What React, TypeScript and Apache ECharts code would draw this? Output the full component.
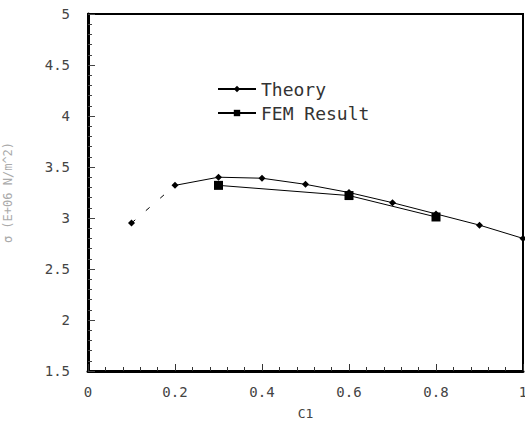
import React, { useEffect, useRef } from "react";
import * as echarts from "echarts";

const theoryX = [0.2, 0.3, 0.4, 0.5, 0.6, 0.7, 0.8, 0.9, 1.0];
const theoryY = [3.32, 3.4, 3.39, 3.33, 3.25, 3.15, 3.04, 2.93, 2.8];
const theoryStartX = [0.1, 0.2];
const theoryStartY = [2.95, 3.32];
const femX = [0.3, 0.6, 0.8];
const femY = [3.32, 3.22, 3.01];

const FONT = "DejaVu Sans Mono";

export default function App() {
  const ref = useRef<HTMLDivElement>(null);
  useEffect(() => {
    if (!ref.current) return;
    const chart = echarts.init(ref.current, null, { renderer: "svg" });
    chart.setOption({
      animation: false,
      backgroundColor: "#fff",
      grid: {
        left: 88,
        right: 2,
        top: 14,
        bottom: 59,
        outerBoundsMode: "none",
        containLabel: false,
        show: true,
        borderColor: "#000",
        borderWidth: 2,
      },
      legend: {
        data: ["Theory", "FEM Result"],
        orient: "vertical",
        left: 212,
        top: 75,
        itemWidth: 38,
        itemHeight: 8,
        itemGap: 6,
        textStyle: { fontFamily: FONT, fontSize: 18, color: "#333" },
      },
      xAxis: {
        type: "value",
        min: 0,
        max: 1,
        interval: 0.2,
        name: "C1",
        nameLocation: "middle",
        nameGap: 36,
        nameTextStyle: { fontFamily: FONT, fontSize: 13, color: "#444" },
        axisLine: { lineStyle: { color: "#000", width: 3 } },
        axisTick: { inside: true, length: 7, lineStyle: { color: "#333" } },
        minorTick: { show: true, splitNumber: 5, length: 4, lineStyle: { color: "#333" } },
        splitLine: { show: false },
        axisLabel: {
          fontFamily: FONT,
          fontSize: 14,
          color: "#444",
          margin: 14,
          formatter: (v: number) => (v === 0 ? "0" : v === 1 ? "1" : v.toFixed(1)),
        },
      },
      yAxis: {
        type: "value",
        min: 1.5,
        max: 5,
        interval: 0.5,
        name: "σ (E+06 N/m^2)",
        nameLocation: "middle",
        nameGap: 74,
        nameTextStyle: { fontFamily: FONT, fontSize: 12, color: "#aaa" },
        axisLine: { lineStyle: { color: "#000", width: 3 } },
        axisTick: { inside: true, length: 7, lineStyle: { color: "#444" } },
        minorTick: { show: true, splitNumber: 5, length: 4, lineStyle: { color: "#444" } },
        splitLine: { show: false },
        axisLabel: {
          fontFamily: FONT,
          fontSize: 14,
          color: "#444",
          margin: 18,
          formatter: (v: number) => (Number.isInteger(v) ? String(v) : v.toFixed(1)),
        },
      },
      series: [
        {
          name: "Theory",
          type: "line",
          data: theoryX.map((x, i) => [x, theoryY[i]]),
          symbol: "diamond",
          symbolSize: 7,
          itemStyle: { color: "#000" },
          lineStyle: { color: "#000", width: 1 },
        },
        {
          name: "TheoryStart",
          type: "line",
          data: theoryStartX.map((x, i) => [x, theoryStartY[i]]),
          symbol: (_v: any, p: any) => (p.dataIndex === 0 ? "diamond" : "none"),
          symbolSize: 7,
          itemStyle: { color: "#000" },
          lineStyle: { color: "#000", width: 1, type: [5, 14] },
        },
        {
          name: "FEM Result",
          type: "line",
          data: femX.map((x, i) => [x, femY[i]]),
          symbol: "rect",
          symbolSize: 9,
          itemStyle: { color: "#000" },
          lineStyle: { color: "#000", width: 1 },
        },
      ],
    });
    return () => chart.dispose();
  }, []);
  return <div ref={ref} style={{ width: 525, height: 430, position: "absolute", left: 0, top: 0 }} />;
}
